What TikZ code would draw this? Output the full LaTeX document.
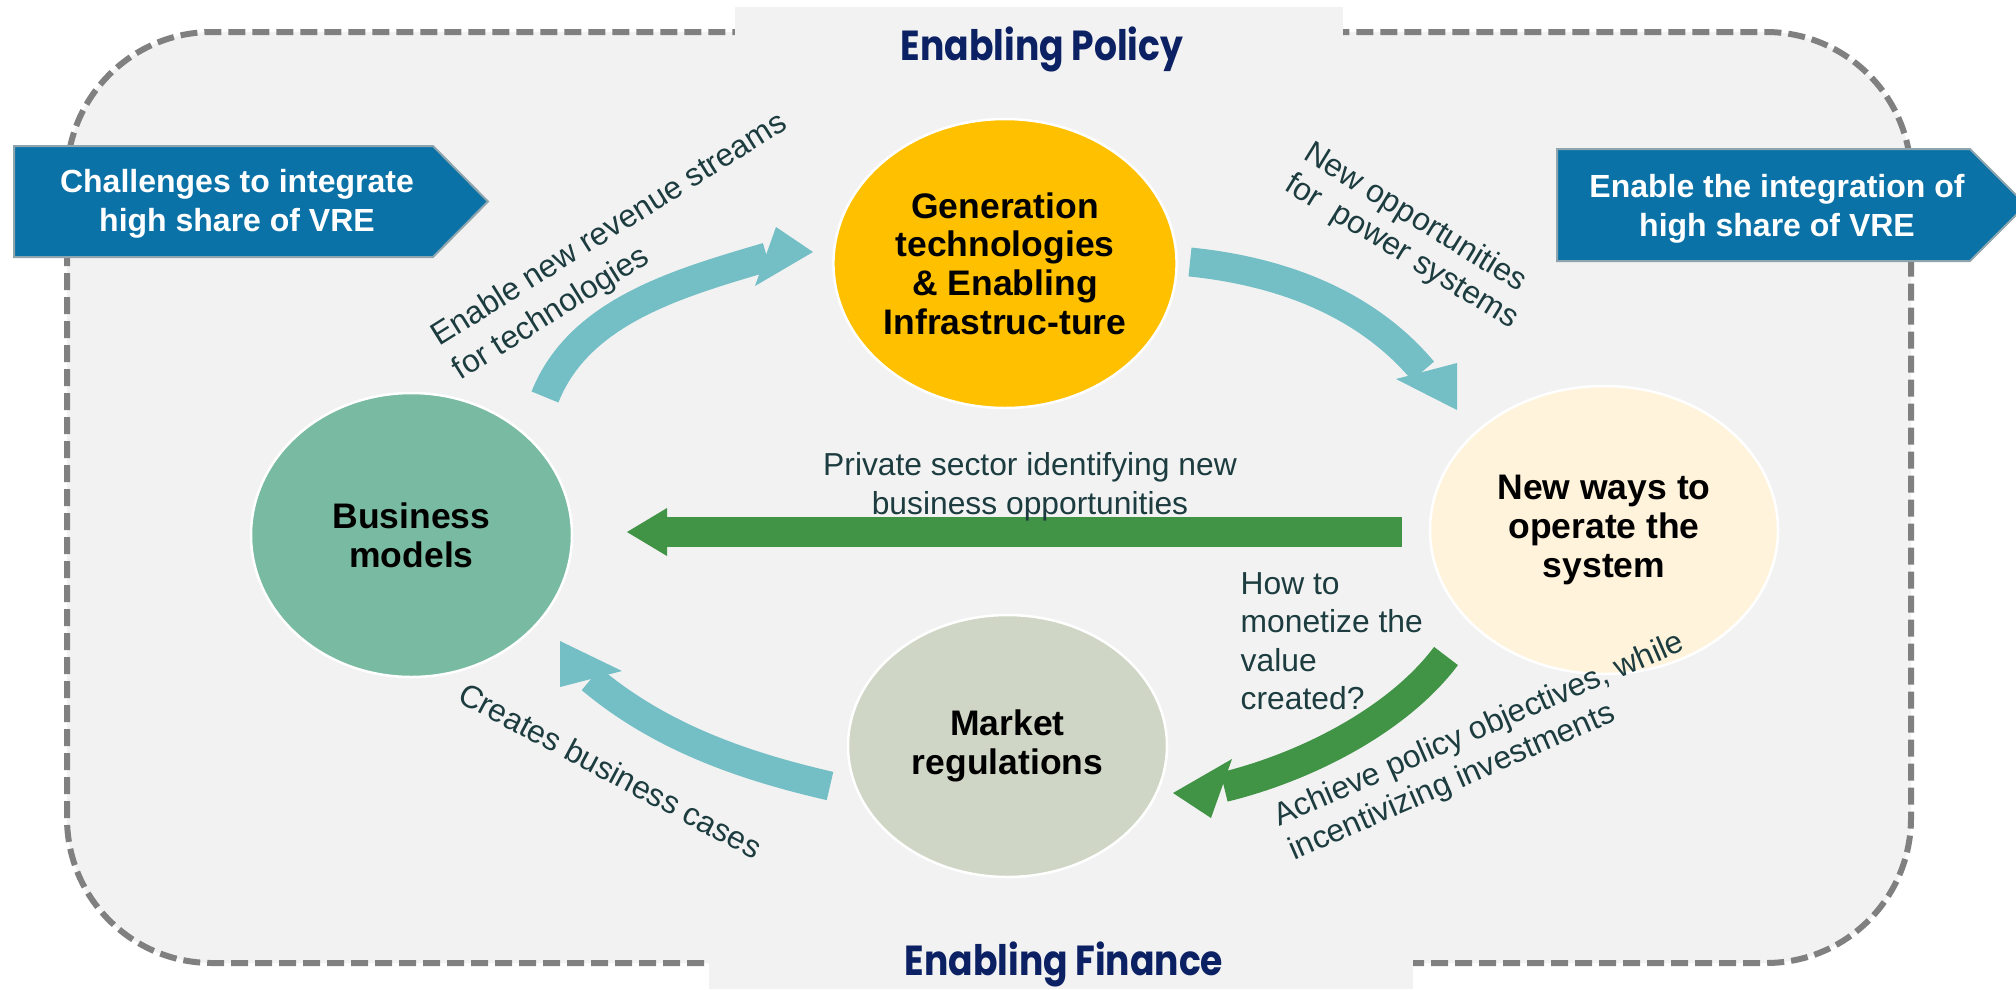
\documentclass[tikz,border=0pt]{standalone}
\usepackage{fontspec}
\setmainfont{Liberation Sans}
\newfontfamily\gothicfont{Poppins}[FakeStretch=0.86]
\usetikzlibrary{shapes.geometric}
\definecolor{bgray}{HTML}{F2F2F2}
\definecolor{dashgray}{HTML}{808080}
\definecolor{boxblue}{HTML}{0B72A8}
\definecolor{boxedge}{HTML}{8FA5AD}
\definecolor{navy}{HTML}{0B2163}
\definecolor{labelc}{HTML}{1C3C3F}
\definecolor{tealarr}{HTML}{73BFC5}
\definecolor{greenarr}{HTML}{419446}
\definecolor{bizgreen}{HTML}{79BAA2}
\definecolor{gold}{HTML}{FFC000}
\definecolor{cream}{HTML}{FFF3DC}
\definecolor{sage}{HTML}{CFD6C5}
\begin{document}
\begin{tikzpicture}[x=1pt,y=-1pt,
  bubble/.style={ellipse, draw=white, line width=2.5pt, inner sep=0pt, align=center,
    font=\fontsize{35.5}{38.7}\selectfont\bfseries, text=black},
  lbl/.style={inner sep=0pt, text=labelc, font=\fontsize{31.8}{#1}\selectfont},
  lbl/.default=38.5,
  banner/.style={fill=boxblue, draw=boxedge, line width=2pt},
  bannertext/.style={inner sep=0pt, align=center, text=white, font=\fontsize{32}{39}\selectfont\bfseries},
  header/.style={inner sep=0pt, text=navy, font=\gothicfont\fontsize{42}{46}\selectfont\bfseries},
  tealshaft/.style={draw=tealarr, line width=29pt},
  greenshaft/.style={draw=greenarr, line width=30pt},
]
\useasboundingbox (0,0) rectangle (2016,989);
\fill[white] (0,0) rectangle (2016,989);
% frame
\draw[dashgray, line width=6pt, dash pattern=on 17pt off 7pt, fill=bgray, rounded corners=145pt]
  (67,32) rectangle (1911,963);
\fill[bgray] (735,7) rectangle (1343,60);
\fill[bgray] (709,935) rectangle (1413,989);
\node[header, anchor=base] (policy) at (1042,60) {Enabling Policy};
\node[header, anchor=base] (finance) at (1064,975) {Enabling Finance};
% banners
\filldraw[banner] (14,146) -- (433,146) -- (488,201.5) -- (433,257) -- (14,257) -- cycle;
\node[bannertext] (challenge) at (237,204) {Challenges to integrate\\high share of VRE};
\filldraw[banner] (1557,149) -- (1970,149) -- (2026,205) -- (1970,261) -- (1557,261) -- cycle;
\node[bannertext] (enable) at (1777,209) {Enable the integration of\\high share of VRE};
% bubbles
\node[bubble, fill=gold, minimum width=342pt, minimum height=289pt] (gen) at (1005,263.5)
  {Generation\\technologies\\\& Enabling\\Infrastruc-ture};
\node[bubble, fill=bizgreen, minimum width=321pt, minimum height=284pt] (biz) at (411.5,535)
  {Business\\models};
\node[bubble, fill=cream, minimum width=348pt, minimum height=288pt] (ops) at (1604,530)
  {New ways to\\operate the\\system};
\node[bubble, fill=sage, minimum width=319pt, minimum height=262pt] (mkt) at (1007.5,746)
  {Market\\regulations};
% arrow biz -> gen
\coordinate (a0) at (545,397); \coordinate (a1) at (767,257);
\coordinate (ah1) at (776,227); \coordinate (ah2) at (813,252); \coordinate (ah3) at (755,286);
\draw[tealshaft] (a0) .. controls (579,311) and (679,283) .. (a1);
\fill[tealarr] (ah1) -- (ah2) -- (ah3) -- cycle;
% arrow gen -> ops
\coordinate (b0) at (1190,262); \coordinate (b1) at (1423,371);
\coordinate (bh1) at (1396,379); \coordinate (bh2) at (1457,363); \coordinate (bh3) at (1457,410);
\draw[tealshaft] (b0) .. controls (1279,271) and (1365,302) .. (b1);
\fill[tealarr] (bh1) -- (bh2) -- (bh3) -- cycle;
% arrow mkt -> biz
\coordinate (c0) at (830,786); \coordinate (c1) at (591,679);
\coordinate (ch1) at (560,641); \coordinate (ch2) at (560,687); \coordinate (ch3) at (622,671);
\draw[tealshaft] (c0) .. controls (743,766) and (660,737) .. (c1);
\fill[tealarr] (ch1) -- (ch2) -- (ch3) -- cycle;
% arrow ops -> mkt
\coordinate (d0) at (1446,656); \coordinate (d1) at (1224,787);
\coordinate (dh1) at (1232,759); \coordinate (dh2) at (1173,793); \coordinate (dh3) at (1211,818);
\draw[greenshaft] (d0) .. controls (1398,720) and (1306,767) .. (d1);
\fill[greenarr] (dh1) -- (dh2) -- (dh3) -- cycle;
% arrow ops -> biz (straight)
\coordinate (e0) at (1402,532); \coordinate (e1) at (665,532);
\coordinate (eh1) at (667,508); \coordinate (eh2) at (627,532); \coordinate (eh3) at (667,556);
\draw[greenshaft] (e0) -- (e1);
\fill[greenarr] (eh1) -- (eh2) -- (eh3) -- cycle;
% labels
\node[lbl=40, rotate=32, anchor=north west, align=left] (lblA) at (427,327)
  {Enable new revenue streams\\for technologies};
\node[lbl=36, rotate=-31.5, anchor=north west, align=left] (lblB) at (1314,139)
  {New opportunities\\for\ \ power systems};
\node[lbl=39, align=center] (lblE) at (1030,487)
  {Private sector identifying new\\business opportunities};
\node[lbl=38.5, anchor=north west, align=left] (lblQ) at (1240.5,572.2)
  {How to\\monetize the\\value\\created?};
\node[lbl=37.5, rotate=23.5, anchor=north west, align=left] (lblD) at (1270,805)
  {Achieve policy objectives, while\\incentivizing investments};
\node[lbl, rotate=-28, anchor=base west] (lblC) at (456,701)
  {Creates business cases};
\end{tikzpicture}
\end{document}
